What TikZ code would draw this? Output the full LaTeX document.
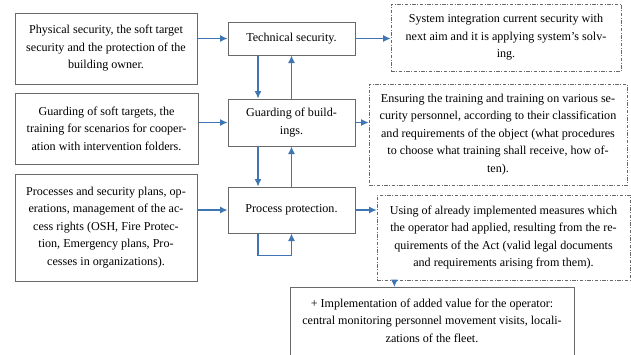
\documentclass[tikz,border=0pt]{standalone}
\usepackage{fontspec}
\setmainfont{Liberation Serif}
\usetikzlibrary{calc, positioning, arrows.meta}

\definecolor{arrowblue}{RGB}{62,117,178}
\definecolor{boxgray}{RGB}{105,105,105}

\tikzset{
  txt/.style={font=\fontsize{12.1}{17.5}\selectfont, align=center, inner sep=2pt},
  solidbox/.style={txt, draw=boxgray, line width=1pt},
  notebox/.style={txt, draw=boxgray, line width=0.8pt,
    dash pattern=on 3.5pt off 1.5pt on 1pt off 1.5pt},
  arr/.style={draw=arrowblue, line width=1.1pt, -{Latex[length=7.5pt,width=7pt]}}
}

\begin{document}
\begin{tikzpicture}[x=1pt,y=-1pt]
    \clip (0,0) rectangle (631,354);

    % left column
    \node[solidbox, minimum width=182, minimum height=71] (phys) at (106,48.5)
      {Physical security, the soft target\\security and the protection of the\\building owner.};
    \node[solidbox, minimum width=183, minimum height=71] (soft) at (106.5,128.5)
      {Guarding of soft targets, the\\training for scenarios for cooper-\\ation with intervention folders.};
    \node[solidbox, minimum width=182, minimum height=107] (plans) at (106,227.5)
      {Processes and security plans, op-\\erations, management of the ac-\\cess rights (OSH, Fire Protec-\\tion, Emergency plans, Pro-\\cesses in organizations).};

    % middle column
    \node[solidbox, minimum width=127, minimum height=33] (tech) at (291.5,38.5)
      {Technical security.};
    \node[solidbox, minimum width=127, minimum height=47] (guard) at (291.5,122.5)
      {Guarding of build-\\ings.};
    \node[solidbox, minimum width=127, minimum height=46] (proc) at (291.5,210)
      {Process protection.};

    % right column
    \node[notebox, minimum width=230, minimum height=67] (integ) at (506,37.5)
      {System integration current security with\\next aim and it is applying system's solv-\\ing.};
    \node[notebox, minimum width=258, minimum height=101] (train) at (498,134.5)
      {Ensuring the training and training on various se-\\curity personnel, according to their classification\\and requirements of the object (what procedures\\to choose what training shall receive, how of-\\ten).};
    \node[notebox, minimum width=253, minimum height=85] (act) at (503.5,237.5)
      {Using of already implemented measures which\\the operator had applied, resulting from the re-\\quirements of the Act (valid legal documents\\and requirements arising from them).};
    \node[solidbox, minimum width=284, inner ysep=11pt, anchor=north] (added) at (432,287)
      {+ Implementation of added value for the operator:\\central monitoring personnel movement visits, locali-\\zations of the fleet.\\[30pt]};

    % connectors
    \draw[arr] (phys.east |- tech.west) -- (tech.west);
    \draw[arr] (soft.east |- guard.west) -- (guard.west);
    \draw[arr] (plans.east |- proc.west) -- (proc.west);
    \draw[arr] (tech.east) -- (tech.east -| integ.west);
    \draw[arr] (guard.east) -- (guard.east -| train.west);
    \draw[arr] (proc.east) -- (proc.east -| act.west);

    \draw[arr] ([xshift=-33.5]tech.south) -- ([xshift=-33.5]guard.north);
    \draw[arr] (guard.north) -- (tech.south);
    \draw[arr] ([xshift=-33.5]guard.south) -- ([xshift=-33.5]proc.north);
    \draw[arr] (proc.north) -- (guard.south);
    \draw[arr] ([xshift=-33.5]proc.south) -- ++(0,22) -| (proc.south);

    \coordinate (actfoot) at ($(act.south west)!0.07!(act.south east)$);
    \draw[arr] (actfoot) -- (actfoot |- added.north);
\end{tikzpicture}
\end{document}
